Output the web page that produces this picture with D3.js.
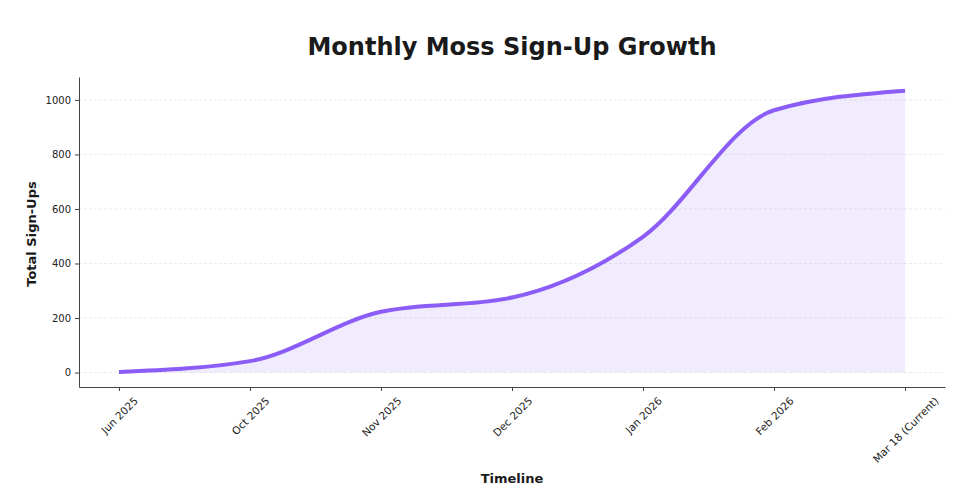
<!DOCTYPE html>
<html>
<head>
<meta charset="utf-8">
<script src="https://cdn.jsdelivr.net/npm/d3@7"></script>
<style>
  html, body { margin: 0; padding: 0; background: #ffffff; }
  svg { display: block; font-family: "DejaVu Sans", sans-serif; }
</style>
</head>
<body>
<svg id="chart" width="958" height="503"></svg>
<script>
const categories = ["Jun 2025", "Oct 2025", "Nov 2025", "Dec 2025", "Jan 2026", "Feb 2026", "Mar 18 (Current)"];
const signups = [2, 42, 223, 275, 498, 962, 1034];
const yTicks = [0, 200, 400, 600, 800, 1000];
const titleText = "Monthly Moss Sign-Up Growth";
const xLabel = "Timeline";
const yLabel = "Total Sign-Ups";

const svg = d3.select("#chart");
const W = 958, H = 503;
const m = { left: 79, right: 13, top: 77, bottom: 116 };
const iw = W - m.left - m.right;
const ih = H - m.top - m.bottom;

const data = categories.map((c, i) => ({ i, c, v: signups[i] }));

const x = d3.scaleLinear().domain([-0.305, categories.length - 1 + 0.305]).range([m.left, m.left + iw]);
const y = d3.scaleLinear().domain([-53, 1084]).range([m.top + ih, m.top]);

const color = "#8B5CF6";

// grid
svg.append("g").selectAll("line").data(yTicks).join("line")
  .attr("x1", m.left).attr("x2", m.left + iw)
  .attr("y1", d => y(d)).attr("y2", d => y(d))
  .attr("stroke", "#d8d8d8").attr("stroke-width", 0.7)
  .attr("stroke-dasharray", "3,2").attr("opacity", 0.7);

// area
const area = d3.area().x(d => x(d.i)).y0(y(0)).y1(d => y(d.v)).curve(d3.curveMonotoneX);
svg.append("path").datum(data).attr("d", area)
  .attr("fill", color).attr("fill-opacity", 0.12);

// line
const line = d3.line().x(d => x(d.i)).y(d => y(d.v)).curve(d3.curveMonotoneX);
svg.append("path").datum(data).attr("d", line)
  .attr("fill", "none").attr("stroke", color).attr("stroke-width", 4)
  .attr("stroke-linecap", "butt").attr("stroke-linejoin", "round");

// y axis
const yAxis = d3.axisLeft(y).tickValues(yTicks).tickSizeInner(4).tickSizeOuter(0).tickPadding(4).tickFormat(d3.format("d"));
const gy = svg.append("g").attr("transform", `translate(${m.left},0)`).call(yAxis);
gy.select(".domain").attr("stroke", "#444").attr("stroke-width", 1);
gy.selectAll(".tick line").attr("stroke", "#444");
gy.selectAll(".tick text").attr("font-size", 10).attr("fill", "#222").attr("font-family", "DejaVu Sans");

// x axis
const xAxis = d3.axisBottom(x).tickValues(d3.range(categories.length)).tickSizeInner(4).tickSizeOuter(0).tickFormat(i => categories[i]);
const gx = svg.append("g").attr("transform", `translate(0,${m.top + ih})`).call(xAxis);
gx.select(".domain").attr("stroke", "#444").attr("stroke-width", 1);
gx.selectAll(".tick line").attr("stroke", "#444");
gx.selectAll(".tick text")
  .attr("font-size", 10.5).attr("fill", "#222").attr("font-family", "DejaVu Sans")
  .attr("text-anchor", "middle").attr("dominant-baseline", "central")
  .attr("dy", null)
  .each(function () {
    const t = d3.select(this);
    const w = this.getComputedTextLength();
    const h = 10.5;
    const half = (w + h) * Math.SQRT1_2 / 2;
    const cy = 8 + half;
    t.attr("y", 0).attr("transform", `translate(0,${cy}) rotate(-45)`);
  });

// title
svg.append("text").attr("x", m.left + iw / 2).attr("y", 55)
  .attr("text-anchor", "middle").attr("font-size", 24).attr("font-weight", "bold")
  .attr("fill", "#1a1a1a").text(titleText);

// axis labels
svg.append("text").attr("x", m.left + iw / 2).attr("y", 483)
  .attr("text-anchor", "middle").attr("font-size", 13).attr("font-weight", "bold")
  .attr("fill", "#1a1a1a").text(xLabel);

svg.append("text").attr("transform", `translate(36,${m.top + ih / 2 + 2}) rotate(-90)`)
  .attr("text-anchor", "middle").attr("font-size", 13).attr("font-weight", "bold")
  .attr("fill", "#1a1a1a").text(yLabel);
</script>
</body>
</html>
